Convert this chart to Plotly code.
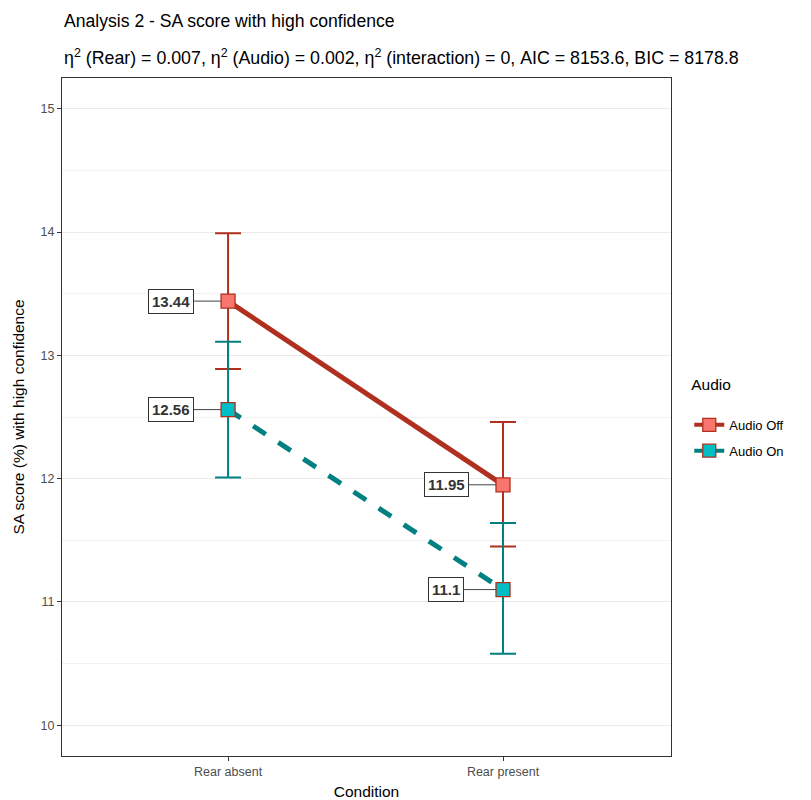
import plotly.graph_objects as go

conditions = ["Rear absent", "Rear present"]
groups = ["Audio Off", "Audio On"]
off_mean = [13.44, 11.95]
off_low = [12.89, 11.45]
off_high = [13.99, 12.46]
on_mean = [12.56, 11.10]
on_low = [12.01, 10.58]
on_high = [13.11, 11.64]
y_ticks = [10, 11, 12, 13, 14, 15]

x_pos = list(range(len(conditions)))

styles = {
    "Audio Off": dict(line="#B0301F", fill="#F8766D", dash="solid"),
    "Audio On": dict(line="#008080", fill="#00BFC4", dash="dash"),
}
series = {
    "Audio Off": (off_mean, off_low, off_high),
    "Audio On": (on_mean, on_low, on_high),
}

FONT = "Liberation Sans, Arial, sans-serif"

fig = go.Figure()

# connecting lines
for g in groups:
    mean = series[g][0]
    st = styles[g]
    fig.add_trace(go.Scatter(
        x=x_pos, y=mean, mode="lines", showlegend=False,
        line=dict(color=st["line"], width=5, dash=st["dash"]),
        hoverinfo="skip",
    ))

# points with confidence intervals
for g in groups:
    mean, low, high = series[g]
    st = styles[g]
    fig.add_trace(go.Scatter(
        x=x_pos, y=mean, mode="markers", name=g, showlegend=False,
        marker=dict(symbol="square", size=14, color=st["fill"],
                    line=dict(color="#B0301F", width=1.3)),
        error_y=dict(type="data", symmetric=False,
                     array=[h - m for h, m in zip(high, mean)],
                     arrayminus=[m - l for m, l in zip(mean, low)],
                     color=st["line"], thickness=2, width=13),
    ))

# legend keys
for g in groups:
    st = styles[g]
    fig.add_trace(go.Scatter(
        x=[None], y=[None], mode="lines+markers", name=g, legendgroup=g,
        line=dict(color=st["line"], width=4),
        marker=dict(symbol="square", size=13, color=st["fill"],
                    line=dict(color="#B0301F", width=1.3)),
    ))

# value labels
for g in groups:
    mean = series[g][0]
    for xi, v in zip(x_pos, mean):
        fig.add_annotation(
            x=xi, y=v, xref="x", yref="y",
            text="<b>%g</b>" % v,
            showarrow=True, arrowhead=0, arrowwidth=1, arrowcolor="#444444",
            ax=-57, ay=0, standoff=7,
            font=dict(family=FONT, size=15, color="#333333"),
            bordercolor="#333333", borderwidth=1, borderpad=3,
            bgcolor="white",
        )

# title and subtitle
fig.add_annotation(
    xref="paper", yref="paper", x=0, y=1, xanchor="left", yanchor="bottom",
    yshift=45, text="Analysis 2 - SA score with high confidence",
    showarrow=False, font=dict(family=FONT, size=17.6, color="#000000"),
)
fig.add_annotation(
    xref="paper", yref="paper", x=0, y=1, xanchor="left", yanchor="bottom",
    yshift=8,
    text="η<sup>2</sup> (Rear) = 0.007, η<sup>2</sup> (Audio) = 0.002, "
         "η<sup>2</sup> (interaction) = 0, AIC = 8153.6, BIC = 8178.8",
    showarrow=False, font=dict(family=FONT, size=17.8, color="#000000"),
)

fig.update_layout(
    width=811, height=800,
    margin=dict(l=62, r=140, t=78, b=44, autoexpand=False),
    paper_bgcolor="white", plot_bgcolor="white",
    font=dict(family=FONT, color="#000000"),
    xaxis=dict(
        range=[-0.604, 1.611], tickvals=x_pos, ticktext=conditions,
        showgrid=False, zeroline=False, showline=True, mirror=True,
        linecolor="#333333", linewidth=1,
        ticks="outside", ticklen=4, tickcolor="#333333",
        tickfont=dict(size=12.5, color="#4D4D4D"),
        title=dict(text="Condition", font=dict(size=15.5), standoff=8),
        automargin=False,
    ),
    yaxis=dict(
        range=[9.75, 15.25], tickvals=y_ticks,
        showgrid=True, gridcolor="#EBEBEB", gridwidth=1,
        minor=dict(dtick=0.5, showgrid=True, gridcolor="#F2F2F2", gridwidth=1),
        zeroline=False, showline=True, mirror=True,
        linecolor="#333333", linewidth=1,
        ticks="outside", ticklen=4, tickcolor="#333333",
        tickfont=dict(size=12.5, color="#4D4D4D"),
        title=dict(text="SA score (%) with high confidence", font=dict(size=15.5), standoff=12),
        automargin=False,
    ),
    legend=dict(
        title=dict(text="Audio<br> ", font=dict(size=15.5), side="top"),
        x=1.03, xanchor="left", y=0.57, yanchor="top",
        font=dict(size=13), bgcolor="rgba(0,0,0,0)",
        itemwidth=30, tracegroupgap=6,
    ),
)

fig.write_html("out.html")
